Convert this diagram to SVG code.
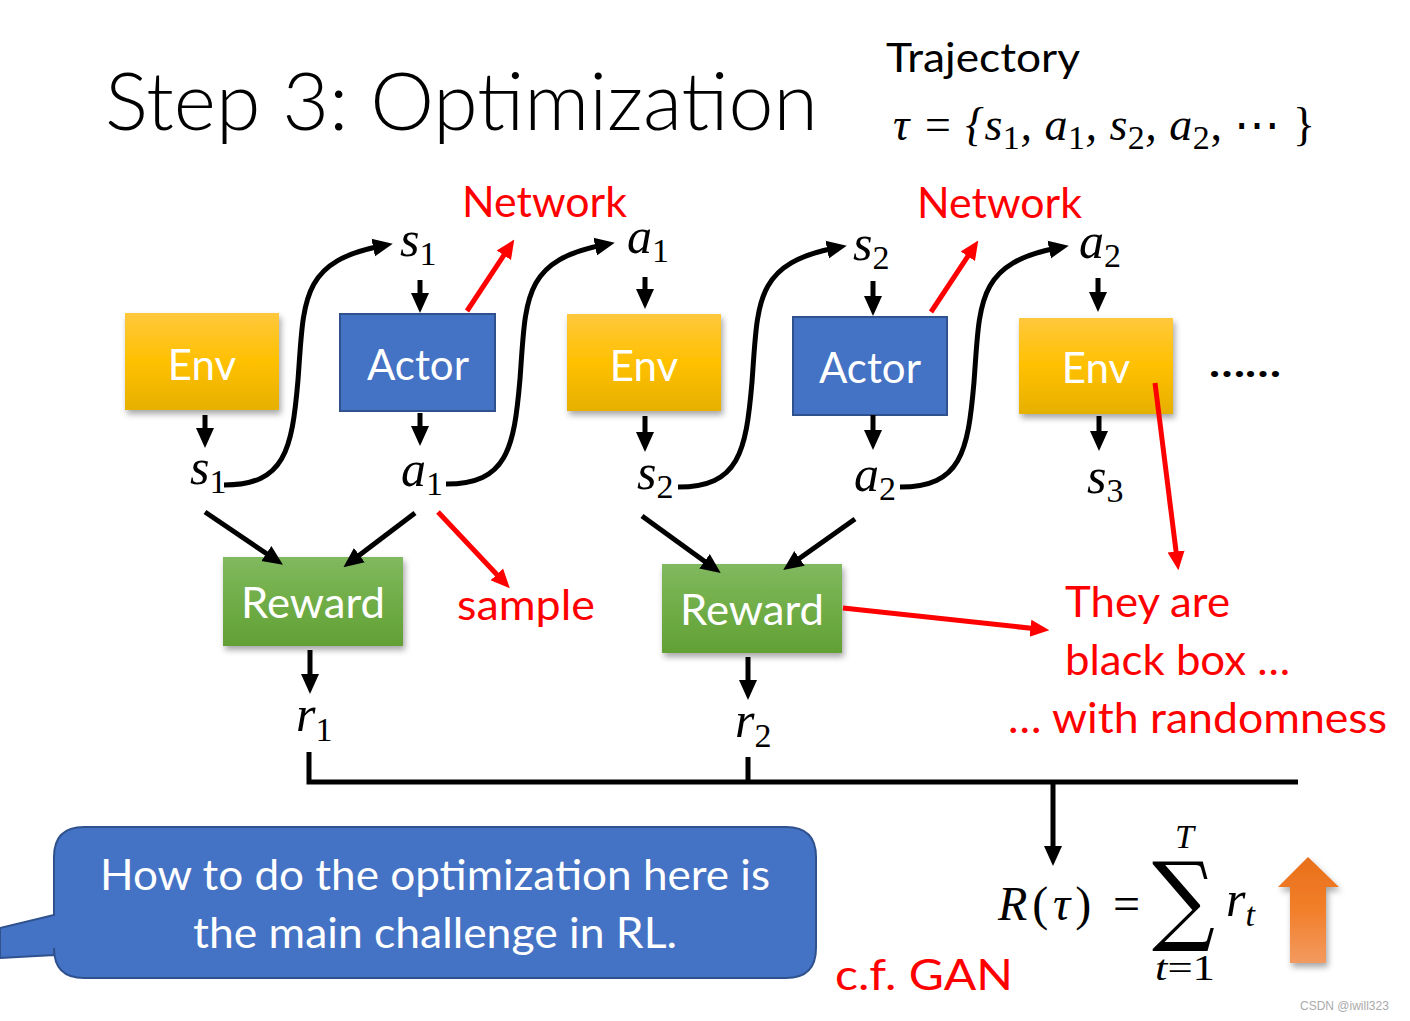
<svg xmlns="http://www.w3.org/2000/svg" width="1410" height="1021" viewBox="0 0 1410 1021">
<style>
.sans{font-family:Lato,"Open Sans","Liberation Sans",sans-serif}
.m{font-family:"Liberation Serif","DejaVu Serif",serif;font-style:italic;fill:#000}
.sub{font-style:normal;font-size:34px}
.box{font-family:Lato,"Open Sans","Liberation Sans",sans-serif;font-size:42px;fill:#fff;text-anchor:middle}
.red{font-family:Lato,"Open Sans","Liberation Sans",sans-serif;font-size:42px;fill:#ff0000}
.ln{stroke:#000;stroke-width:5;fill:none}
.rl{stroke:#ff0000;stroke-width:5;fill:none}
</style>
<defs>
<linearGradient id="gold" x1="0" y1="0" x2="0" y2="1"><stop offset="0" stop-color="#ffc83d"/><stop offset="0.5" stop-color="#ffc000"/><stop offset="1" stop-color="#e6b000"/></linearGradient>
<linearGradient id="green" x1="0" y1="0" x2="0" y2="1"><stop offset="0" stop-color="#81b95f"/><stop offset="0.5" stop-color="#70ad47"/><stop offset="1" stop-color="#62a035"/></linearGradient>
<linearGradient id="orange" x1="0" y1="0" x2="0" y2="1"><stop offset="0" stop-color="#e86f1a"/><stop offset="0.5" stop-color="#f27f2a"/><stop offset="1" stop-color="#f29a60"/></linearGradient>
<filter id="sh" x="-10%" y="-10%" width="125%" height="130%"><feDropShadow dx="2" dy="4" stdDeviation="3" flood-color="#000" flood-opacity="0.35"/></filter>
<marker id="ab" viewBox="0 0 20 20" refX="8" refY="10" markerWidth="20" markerHeight="20" markerUnits="userSpaceOnUse" orient="auto"><path d="M0,1 L20,10 L0,19 z" fill="#000"/></marker>
<marker id="ar" viewBox="0 0 20 20" refX="8" refY="10" markerWidth="19" markerHeight="19" markerUnits="userSpaceOnUse" orient="auto"><path d="M0,1 L20,10 L0,19 z" fill="#ff0000"/></marker>
<path id="curve" d="M 224 485 C 285 485 292 450 298 380 C 304 300 300 262 381 246"/>
</defs>
<rect width="1410" height="1021" fill="#fff"/>

<g id="title">
<text class="sans" x="105" y="130" font-size="80" font-weight="300" textLength="713" lengthAdjust="spacingAndGlyphs">Step 3: Optimization</text>
<text class="sans" x="886" y="72" font-size="40" textLength="194" lengthAdjust="spacingAndGlyphs">Trajectory</text>
<text class="m" x="893" y="140" font-size="46" textLength="422" lengthAdjust="spacing">τ = {s<tspan class="sub" dy="9">1</tspan><tspan dy="-9">, a</tspan><tspan class="sub" dy="9">1</tspan><tspan dy="-9">, s</tspan><tspan class="sub" dy="9">2</tspan><tspan dy="-9">, a</tspan><tspan class="sub" dy="9">2</tspan><tspan dy="-9" style="font-style:normal">, ⋯ }</tspan></text>
</g>

<g id="env1"><rect x="125" y="313" width="154" height="97" fill="url(#gold)" filter="url(#sh)"/><text class="box" x="202" y="380">Env</text></g>
<g id="actor1"><rect x="340" y="314" width="155" height="97" fill="#4472c4" stroke="#2f528f" stroke-width="2"/><text class="box" x="418" y="380">Actor</text></g>
<g id="env2"><rect x="567" y="314" width="154" height="97" fill="url(#gold)" filter="url(#sh)"/><text class="box" x="644" y="381">Env</text></g>
<g id="actor2"><rect x="793" y="317" width="154" height="98" fill="#4472c4" stroke="#2f528f" stroke-width="2"/><text class="box" x="870" y="383">Actor</text></g>
<g id="env3"><rect x="1019" y="318" width="154" height="96" fill="url(#gold)" filter="url(#sh)"/><text class="box" x="1096" y="383">Env</text></g>
<g id="reward1"><rect x="223" y="557" width="180" height="89" fill="url(#green)" filter="url(#sh)"/><text class="box" x="313" y="618" textLength="144" lengthAdjust="spacingAndGlyphs">Reward</text></g>
<g id="reward2"><rect x="662" y="564" width="180" height="89" fill="url(#green)" filter="url(#sh)"/><text class="box" x="752" y="625" textLength="144" lengthAdjust="spacingAndGlyphs">Reward</text></g>

<g id="labels" font-size="50">
<text class="m" x="400" y="256">s<tspan class="sub" dy="9">1</tspan></text>
<text class="m" x="627" y="253">a<tspan class="sub" dy="9">1</tspan></text>
<text class="m" x="853" y="260">s<tspan class="sub" dy="9">2</tspan></text>
<text class="m" x="1079" y="258">a<tspan class="sub" dy="9">2</tspan></text>
<text class="m" x="190" y="484">s<tspan class="sub" dy="9">1</tspan></text>
<text class="m" x="401" y="486">a<tspan class="sub" dy="9">1</tspan></text>
<text class="m" x="637" y="489">s<tspan class="sub" dy="9">2</tspan></text>
<text class="m" x="854" y="491">a<tspan class="sub" dy="9">2</tspan></text>
<text class="m" x="1087" y="493">s<tspan class="sub" dy="9">3</tspan></text>
<text class="m" x="296" y="731">r<tspan class="sub" dy="10">1</tspan></text>
<text class="m" x="735" y="737">r<tspan class="sub" dy="10">2</tspan></text>
</g>

<g id="connectors">
<use href="#curve" class="ln" marker-end="url(#ab)"/>
<use href="#curve" class="ln" marker-end="url(#ab)" transform="translate(222,-1)"/>
<use href="#curve" class="ln" marker-end="url(#ab)" transform="translate(454,2)"/>
<use href="#curve" class="ln" marker-end="url(#ab)" transform="translate(676,2)"/>
<line class="ln" x1="205" y1="415" x2="205" y2="436" marker-end="url(#ab)"/>
<line class="ln" x1="420" y1="280" x2="420" y2="301" marker-end="url(#ab)"/>
<line class="ln" x1="420" y1="413" x2="420" y2="434" marker-end="url(#ab)"/>
<line class="ln" x1="645" y1="277" x2="645" y2="297" marker-end="url(#ab)"/>
<line class="ln" x1="645" y1="416" x2="645" y2="440" marker-end="url(#ab)"/>
<line class="ln" x1="873" y1="281" x2="873" y2="304" marker-end="url(#ab)"/>
<line class="ln" x1="873" y1="415" x2="873" y2="438" marker-end="url(#ab)"/>
<line class="ln" x1="1098" y1="278" x2="1098" y2="300" marker-end="url(#ab)"/>
<line class="ln" x1="1099" y1="416" x2="1099" y2="439" marker-end="url(#ab)"/>
<line class="ln" x1="205" y1="512" x2="273" y2="558" marker-end="url(#ab)"/>
<line class="ln" x1="415" y1="513" x2="353" y2="560" marker-end="url(#ab)"/>
<line class="ln" x1="642" y1="516" x2="711" y2="566" marker-end="url(#ab)"/>
<line class="ln" x1="855" y1="519" x2="793" y2="563" marker-end="url(#ab)"/>
<line class="ln" x1="310" y1="650" x2="310" y2="682" marker-end="url(#ab)"/>
<line class="ln" x1="748" y1="657" x2="748" y2="688" marker-end="url(#ab)"/>
<path class="ln" d="M 309 752 V 782 H 1298 M 748 757 V 782"/>
<line class="ln" x1="1053" y1="782" x2="1053" y2="854" marker-end="url(#ab)"/>
<line class="rl" x1="467" y1="311" x2="508" y2="249" marker-end="url(#ar)"/>
<line class="rl" x1="931" y1="312" x2="972" y2="250" marker-end="url(#ar)"/>
<line class="rl" x1="438" y1="512" x2="502" y2="580" marker-end="url(#ar)"/>
<line class="rl" x1="1155" y1="383" x2="1177" y2="559" marker-end="url(#ar)"/>
<line class="rl" x1="843" y1="608" x2="1038" y2="629" marker-end="url(#ar)"/>
</g>

<g id="red-notes">
<text class="red" x="462" y="217" textLength="165" lengthAdjust="spacingAndGlyphs">Network</text>
<text class="red" x="917" y="218" textLength="165" lengthAdjust="spacingAndGlyphs">Network</text>
<text class="red" x="457" y="620" textLength="138" lengthAdjust="spacingAndGlyphs">sample</text>
<text class="red" x="1065" y="617" textLength="165" lengthAdjust="spacingAndGlyphs">They are</text>
<text class="red" x="1065" y="675" textLength="225" lengthAdjust="spacingAndGlyphs">black box …</text>
<text class="red" x="1008" y="733" textLength="379" lengthAdjust="spacingAndGlyphs">… with randomness</text>
<text class="red" x="835" y="990" font-size="50" textLength="178" lengthAdjust="spacingAndGlyphs">c.f. GAN</text>
</g>

<g id="dots"><text class="sans" x="1209" y="377" font-size="40" font-weight="bold" textLength="72" lengthAdjust="spacingAndGlyphs">……</text></g>

<g id="formula">
<text class="m" x="998" y="920" font-size="48" textLength="142" lengthAdjust="spacing">R<tspan style="font-style:normal">(</tspan>τ<tspan style="font-style:normal">) =</tspan></text>
<text x="1152" y="932" font-family="'DejaVu Serif','Liberation Serif',serif" font-size="98" textLength="63" lengthAdjust="spacingAndGlyphs">∑</text>
<text class="m" x="1175" y="848" font-size="34">T</text>
<text class="m" x="1155" y="980" font-size="36" textLength="60" lengthAdjust="spacingAndGlyphs">t<tspan style="font-style:normal">=1</tspan></text>
<text class="m" x="1226" y="916" font-size="50">r<tspan style="font-style:italic;font-size:34px" dy="10">t</tspan></text>
</g>

<g id="up-arrow"><polygon points="1308,857 1339,887 1326,887 1326,963 1290,963 1290,887 1278,887" fill="url(#orange)" filter="url(#sh)"/></g>

<g id="callout">
<path d="M 84 827 H 786 Q 816 827 816 857 V 948 Q 816 978 786 978 H 84 Q 54 978 54 948 V 955 L 0 958 L 0 928 L 54 915 V 857 Q 54 827 84 827 Z" fill="#4472c4" stroke="#2f528f" stroke-width="2"/>
<text class="sans" x="435" y="890" font-size="42" fill="#fff" text-anchor="middle" textLength="670" lengthAdjust="spacingAndGlyphs">How to do the optimization here is</text>
<text class="sans" x="435" y="948" font-size="42" fill="#fff" text-anchor="middle" textLength="484" lengthAdjust="spacingAndGlyphs">the main challenge in RL.</text>
</g>

<text x="1300" y="1010" font-family="'Liberation Sans',sans-serif" font-size="12" fill="#aaa">CSDN @iwill323</text>
</svg>
